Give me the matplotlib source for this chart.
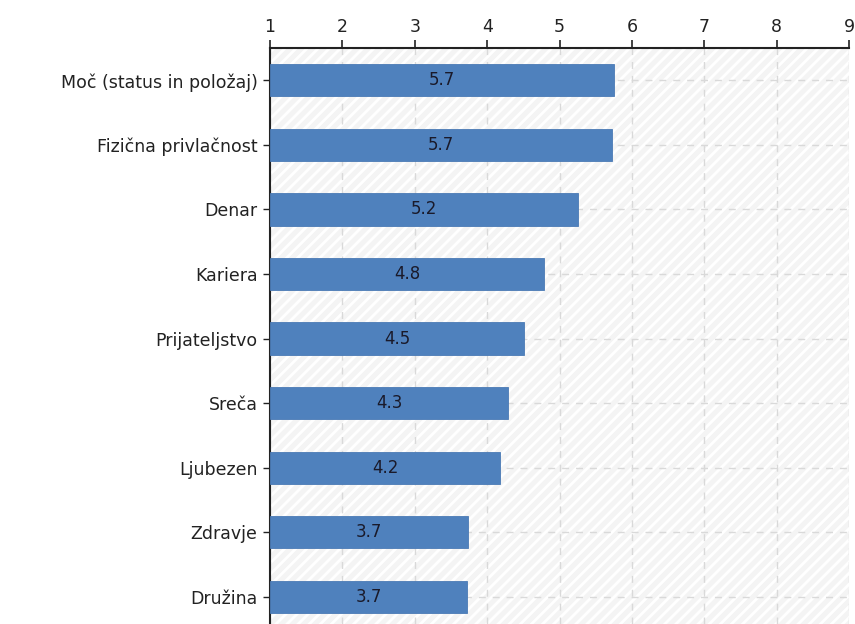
import matplotlib
matplotlib.use("Agg")
import matplotlib.pyplot as plt
from matplotlib.patches import Rectangle
import numpy as np

categories = ["Moč (status in položaj)", "Fizična privlačnost", "Denar", "Kariera",
              "Prijateljstvo", "Sreča", "Ljubezen", "Zdravje", "Družina"]
values = [5.75, 5.72, 5.25, 4.79, 4.51, 4.29, 4.18, 3.74, 3.72]
labels = ["5.7", "5.7", "5.2", "4.8", "4.5", "4.3", "4.2", "3.7", "3.7"]
xticks = [1, 2, 3, 4, 5, 6, 7, 8, 9]

plt.rcParams['font.family'] = ['DejaVu Sans']
plt.rcParams['hatch.linewidth'] = 2.0

fig = plt.figure(figsize=(8.55, 6.24), dpi=100)
ax = fig.add_axes([270 / 855, 0, (849 - 270) / 855, (624 - 48) / 624])

# striped background
bg = Rectangle((0, 0), 1, 1, transform=ax.transAxes, facecolor='#f4f4f4',
               edgecolor='white', hatch='///', linewidth=0, zorder=0)
ax.add_patch(bg)

y = np.arange(len(categories))
base = xticks[0]
ax.barh(y, [v - base for v in values], left=base, height=0.5,
        color='#4f81bd', edgecolor='#4a7ab5', linewidth=0.6, zorder=3)

for yi, v, lab in zip(y, values, labels):
    ax.text((base + v) / 2, yi, lab, ha='center', va='center',
            fontsize=12, color='#1a1a2a', zorder=4)

ax.set_xlim(1, 9)
ax.set_ylim(8.42, -0.5)
ax.set_xticks(xticks)
ax.set_yticks(y)
ax.set_yticklabels(categories)
ax.xaxis.tick_top()
ax.tick_params(axis='x', labelsize=12.5, length=6, width=1.2, pad=3, colors='#222222')
ax.tick_params(axis='y', labelsize=12.5, length=5, width=1, pad=4, colors='#222222')

ax.grid(True, color='#d9d9d9', linestyle=(0, (5, 5)), linewidth=1.0, zorder=1)
ax.set_axisbelow(True)

for s in ['right', 'bottom']:
    ax.spines[s].set_visible(False)
ax.spines['top'].set_linewidth(1.5)
ax.spines['left'].set_linewidth(1.5)
ax.spines['top'].set_color('#222222')
ax.spines['left'].set_color('#222222')

fig.savefig("out.png", dpi=100)
